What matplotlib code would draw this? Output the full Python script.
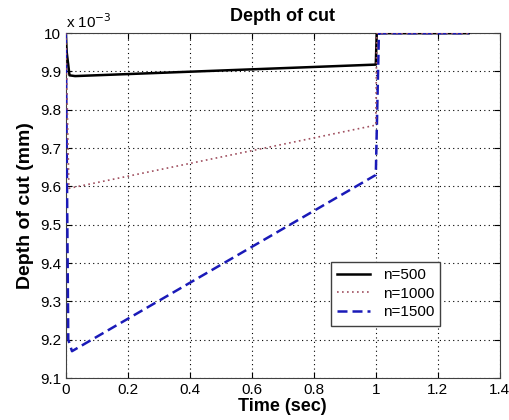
import matplotlib
matplotlib.use("Agg")
import matplotlib.pyplot as plt

plt.rcParams["font.family"] = ["Liberation Sans", "DejaVu Sans"]

# depth of cut, values in units of 1e-3 mm
t_500 = [0.0, 0.003, 0.012, 0.03, 1.0, 1.003, 1.3]
d_500 = [10.0, 9.95, 9.89, 9.888, 9.918, 10.0, 10.0]

t_1000 = [0.0, 0.01, 1.0, 1.003, 1.3]
d_1000 = [10.0, 9.595, 9.76, 10.0, 10.0]

t_1500 = [0.0, 0.008, 0.02, 1.0, 1.01, 1.3]
d_1500 = [10.0, 9.2, 9.17, 9.63, 10.0, 10.0]

fig = plt.figure(figsize=(5.1, 4.2), dpi=100)
ax = fig.add_axes([0.129, 0.1, 0.851, 0.821])

ax.plot(t_500, d_500, color="black", lw=1.8, label="n=500", zorder=3)
ax.plot(t_1000, d_1000, color="#a05060", lw=1.2, ls=(0, (1, 2)), label="n=1000", zorder=5)
ax.plot(t_1500, d_1500, color="#1a1ab8", lw=1.8, ls=(0, (4, 2)), label="n=1500", zorder=4)

ax.set_xlim(0, 1.4)
ax.set_ylim(9.1, 10.0)
ax.set_xticks([0, 0.2, 0.4, 0.6, 0.8, 1.0, 1.2, 1.4])
ax.set_xticklabels(["0", "0.2", "0.4", "0.6", "0.8", "1", "1.2", "1.4"])
ax.set_yticks([9.1, 9.2, 9.3, 9.4, 9.5, 9.6, 9.7, 9.8, 9.9, 10.0])
ax.set_yticklabels(["9.1", "9.2", "9.3", "9.4", "9.5", "9.6", "9.7", "9.8", "9.9", "10"])
ax.tick_params(direction="in", top=True, right=True, labelsize=11, length=4)
ax.grid(True, color="black", ls=(0, (1, 3)), lw=0.8)
for s in ax.spines.values():
    s.set_color("#404040")

ax.text(0.0, 1.005, r"x 10$^{-3}$", transform=ax.transAxes, fontsize=11, va="bottom")
ax.set_title("Depth of cut", fontsize=13, fontweight="bold", pad=9)
ax.set_xlabel("Time (sec)", fontsize=13, fontweight="bold", labelpad=1)
ax.set_ylabel("Depth of cut (mm)", fontsize=14, fontweight="bold", labelpad=4)

leg = ax.legend(loc="lower right", bbox_to_anchor=(0.88, 0.13), fontsize=11,
                fancybox=False, framealpha=1, edgecolor="#404040",
                handlelength=2.2, borderpad=0.4, labelspacing=0.3)
leg.get_frame().set_linewidth(1.0)

fig.savefig("out.png", dpi=100)
